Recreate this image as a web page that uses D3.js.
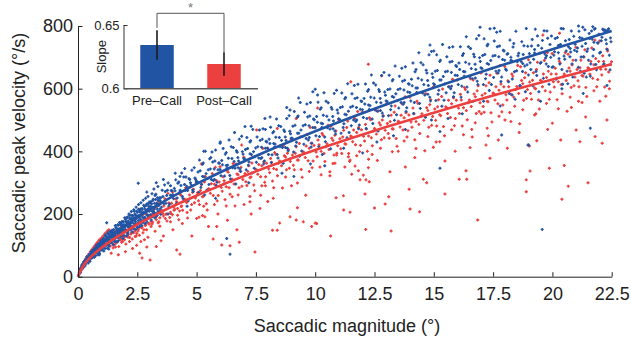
<!DOCTYPE html>
<html><head><meta charset="utf-8">
<script src="https://cdn.jsdelivr.net/npm/d3@7"></script>
<style>body{margin:0;background:#fff}svg{display:block;font-family:"Liberation Sans",Arial,sans-serif}</style>
</head><body><svg id="c" width="631" height="340"></svg>
<script>
// ---- data ----
const xTicks=[0,2.5,5,7.5,10,12.5,15,17.5,20,22.5];
const xTickLabels=["0","2.5","5","7.5","10","12.5","15","17.5","20","22.5"];
const yTicks=[0,200,400,600,800];
const yTickLabels=["0","200","400","600","800"];
const fitX=[0,0.25,0.5,1,1.5,2,2.5,3.5,5,7.5,10,12.5,15,17.5,20,22.5];
const preFit=[0,42,66,104,136,163,189,235,296,385,464,536,603,666,726,784];
const postFit=[0,38,60,93,120,144,167,207,259,336,404,466,523,578,629,678];
const groups=["Pre\u2013Call","Post\u2013Call"];
const slopes=[0.6342,0.6192];
const slopeErr=[0.0116,0.0093];
const insetTicks=[0.6,0.65];
const insetTickLabels=["0.6","0.65"];
const prePoints=[
[0.05,12],[0.08,18],[0.1,22],[0.12,27],[0.15,30],[0.17,26],[0.2,38],[0.22,34],[0.25,44],[0.27,40],[0.3,49],[0.32,45],[0.33,54],[0.36,50],[0.38,57],[0.4,53],[0.42,62],[0.44,58],[0.46,64],[0.48,60],
[0.5,70],[0.52,60],[0.55,74],[0.57,65],[0.6,78],[0.62,68],[0.64,84],[0.66,74],[0.68,80],[0.7,90],[0.72,78],[0.74,88],[0.76,82],[0.78,96],[0.8,86],[0.82,94],[0.84,100],[0.86,88],[0.88,104],[0.9,92],[0.92,99],[0.94,108],[0.96,95],[0.98,110],[1.0,100],
[1.02,112],[1.05,96],[1.07,122],[1.1,105],[1.12,118],[1.15,130],[1.17,100],[1.2,114],[1.22,126],[1.25,108],[1.27,140],[1.3,121],[1.32,133],[1.35,112],[1.37,127],[1.4,145],[1.42,118],[1.45,136],[1.47,128],[1.5,150],[1.52,122],[1.55,140],[1.57,133],[1.6,158],[1.62,128],[1.65,146],[1.67,139],[1.7,164],[1.72,136],[1.75,152],[1.77,145],[1.8,170],[1.82,140],[1.85,160],[1.87,150],[1.9,176],[1.92,148],[1.95,166],[1.97,158],[2.0,182],
[2.02,150],[2.05,172],[2.07,190],[2.1,160],[2.12,178],[2.15,200],[2.17,166],[2.2,185],[2.22,170],[2.25,208],[2.27,180],[2.3,194],[2.32,160],[2.35,214],[2.37,188],[2.4,200],[2.42,176],[2.45,222],[2.47,192],[2.5,206],[2.52,170],[2.55,230],[2.57,196],[2.6,212],[2.62,184],[2.65,236],[2.67,200],[2.7,218],[2.72,178],[2.75,244],[2.77,206],[2.8,224],[2.82,190],[2.85,250],[2.87,212],[2.9,232],[2.92,196],[2.95,256],[2.97,218],[3.0,238],
[1.21,172],[2.54,298],[0.9,70],[1.3,88],[1.6,112],[2.1,140],[2.6,160],
[0.105,13],[0.122,26],[0.138,23],[0.155,37],[0.172,25],[0.188,38],[0.205,35],[0.222,29],[0.238,47],[0.255,36],[0.272,47],[0.288,34],[0.305,53],[0.322,46],[0.338,41],[0.355,53],[0.372,64],[0.388,49],[0.405,50],[0.422,64],[0.438,44],[0.455,60],[0.472,72],[0.488,53],
[0.505,49],[0.522,68],[0.538,61],[0.555,80],[0.572,59],[0.588,78],[0.605,72],[0.622,62],[0.638,86],[0.655,68],[0.672,83],[0.688,62],[0.705,90],[0.722,77],[0.738,67],[0.755,86],[0.772,100],[0.788,77],[0.805,78],[0.822,96],[0.838,70],[0.855,91],[0.872,105],[0.888,80],[0.905,74],[0.922,99],[0.938,90],[0.955,114],[0.972,85],[0.988,110],
[1.005,100],[1.022,86],[1.038,118],[1.055,93],[1.072,112],[1.088,82],[1.105,121],[1.122,103],[1.138,90],[1.155,114],[1.172,133],[1.188,100],[1.205,103],[1.222,127],[1.238,91],[1.255,119],[1.272,137],[1.288,103],[1.305,97],[1.322,127],[1.338,115],[1.355,144],[1.372,109],[1.388,139],[1.405,127],[1.422,108],[1.438,148],[1.455,117],[1.472,141],[1.488,102],
[1.505,150],[1.522,128],[1.538,112],[1.555,140],[1.572,163],[1.588,123],[1.605,127],[1.622,154],[1.638,111],[1.655,144],[1.672,166],[1.688,124],[1.705,115],[1.722,152],[1.738,137],[1.755,173],[1.772,129],[1.788,165],[1.805,150],[1.822,129],[1.838,175],[1.855,139],[1.872,165],[1.888,122],[1.905,174],[1.922,150],[1.938,132],[1.955,163],[1.972,188],[1.988,144],
[2.005,147],[2.022,176],[2.038,130],[2.055,165],[2.072,188],[2.088,144],[2.105,136],[2.122,173],[2.138,158],[2.155,194],[2.172,150],[2.188,186],[2.205,171],[2.222,150],[2.238,196],[2.255,160],[2.272,186],[2.288,143],[2.305,195],[2.322,171],[2.338,153],[2.355,184],[2.372,209],[2.388,165],[2.405,168],[2.422,197],[2.438,151],[2.455,186],[2.472,209],[2.488,165],
[2.505,157],[2.522,194],[2.538,179],[2.555,215],[2.572,171],[2.588,207],[2.605,191],[2.622,170],[2.638,216],[2.655,180],[2.672,206],[2.688,163],[2.705,214],[2.722,190],[2.738,172],[2.755,203],[2.772,228],[2.788,184],[2.805,187],[2.822,216],[2.838,170],[2.855,205],[2.872,227],[2.888,183],[2.905,175],[2.922,212],[2.938,197],[2.955,233],[2.972,189],[2.988,225],
[3.005,209],[3.022,188],[3.038,234],[3.055,198],[3.072,224],[3.088,181],[3.105,233],[3.122,209],[3.138,191],[3.155,222],[3.172,247],[3.188,203],[3.205,205],[3.222,234],[3.238,188],[3.255,223],[3.272,246],[3.288,202],[3.305,194],[3.322,231],[3.338,216],[3.355,252],[3.372,208],[3.388,244],[3.405,227],[3.422,206],[3.438,252],[3.455,216],[3.472,242],[3.488,199],
[3.03,217],[3.09,196],[3.15,243],[3.21,216],[3.28,263],[3.34,196],[3.4,243],[3.46,233],[3.52,222],[3.58,256],[3.65,293],[3.71,234],[3.77,276],[3.83,225],[3.9,260],[3.96,274],
[4.03,249],[4.09,274],[4.15,234],[4.21,298],[4.28,269],[4.34,291],[4.4,256],[4.46,318],[4.52,275],[4.58,289],[4.65,242],[4.71,310],[4.77,293],[4.83,277],[4.9,348],[4.96,310],
[5.03,303],[5.09,269],[5.15,338],[5.21,295],[5.28,363],[5.34,261],[5.4,329],[5.46,313],[5.52,294],[5.58,344],[5.65,398],[5.71,307],[5.77,369],[5.83,291],[5.9,341],[5.96,362],
[6.03,322],[6.09,357],[6.15,296],[6.21,391],[6.28,346],[6.34,378],[6.4,323],[6.46,415],[6.52,348],[6.58,368],[6.65,296],[6.71,397],[6.77,369],[6.83,344],[6.9,448],[6.96,391],
[7.03,375],[7.09,341],[7.15,409],[7.21,366],[7.28,434],[7.34,331],[7.4,399],[7.46,383],[7.52,365],[7.58,415],[7.65,468],[7.71,377],[7.77,439],[7.83,360],[7.9,410],[7.96,430],
[8.03,390],[8.09,425],[8.15,364],[8.21,459],[8.28,413],[8.34,445],[8.4,390],[8.46,482],[8.52,415],[8.58,435],[8.65,362],[8.71,463],[8.77,435],[8.83,410],[8.9,514],[8.96,456],
[9.03,442],[9.09,398],[9.15,483],[9.21,429],[9.28,513],[9.34,384],[9.4,468],[9.46,447],[9.52,423],[9.58,485],[9.65,551],[9.71,436],[9.77,513],[9.83,414],[9.9,476],[9.96,501],
[10.03,450],[10.09,493],[10.15,415],[10.21,534],[10.28,476],[10.34,515],[10.4,446],[10.46,560],[10.52,475],[10.58,500],[10.65,408],[10.71,534],[10.77,497],[10.83,465],[10.9,595],[10.96,522],
[11.03,502],[11.09,458],[11.15,542],[11.21,488],[11.28,572],[11.34,443],[11.4,528],[11.46,506],[11.52,482],[11.58,544],[11.65,610],[11.71,495],[11.77,571],[11.83,472],[11.9,534],[11.96,559],
[12.03,508],[12.09,551],[12.15,473],[12.21,592],[12.28,534],[12.34,573],[12.4,503],[12.46,618],[12.52,533],[12.58,557],[12.65,465],[12.71,591],[12.77,555],[12.83,522],[12.9,652],[12.96,579],
[13.03,559],[13.09,514],[13.15,599],[13.21,545],[13.28,629],[13.34,499],[13.4,584],[13.46,562],[13.52,538],[13.58,600],[13.65,665],[13.71,550],[13.77,627],[13.83,527],[13.9,589],[13.96,614],
[14.03,561],[14.09,609],[14.15,521],[14.21,654],[14.28,588],[14.34,633],[14.4,553],[14.46,683],[14.52,586],[14.58,613],[14.65,509],[14.71,650],[14.77,610],[14.83,573],[14.9,719],[14.96,636],
[15.03,613],[15.09,562],[15.15,658],[15.21,595],[15.28,691],[15.34,544],[15.4,639],[15.46,615],[15.52,587],[15.58,656],[15.65,731],[15.71,600],[15.77,687],[15.83,574],[15.9,643],[15.96,671],
[16.03,613],[16.09,661],[16.15,573],[16.21,706],[16.28,640],[16.34,684],[16.4,605],[16.46,734],[16.52,638],[16.58,664],[16.65,560],[16.71,702],[16.77,661],[16.83,624],[16.9,770],[16.96,687],
[17.03,664],[17.09,613],[17.15,709],[17.21,646],[17.28,742],[17.34,594],[17.4,690],[17.46,665],[17.52,636],[17.58,706],[17.65,780],[17.71,650],[17.77,736],[17.83,623],[17.9,693],[17.96,720],
[18.03,662],[18.09,710],[18.15,622],[18.21,755],[18.28,689],[18.34,733],[18.4,654],[18.46,783],[18.52,686],[18.58,713],[18.65,609],[18.71,750],[18.77,709],[18.83,672],[18.9,792],[18.96,735],
[19.03,712],[19.09,661],[19.15,757],[19.21,694],[19.28,790],[19.34,642],[19.4,738],[19.46,713],[19.52,684],[19.58,754],[19.65,785],[19.71,698],[19.77,784],[19.83,671],[19.9,741],[19.96,768],
[20.03,670],[20.09,718],[20.15,630],[20.21,763],[20.28,696],[20.34,741],[20.4,661],[20.46,791],[20.52,694],[20.58,720],[20.65,616],[20.71,757],[20.77,717],[20.83,679],[20.9,767],[20.96,742],
[21.03,719],[21.09,668],[21.15,763],[21.21,701],[21.28,796],[21.34,649],[21.4,744],[21.46,719],[21.52,691],[21.58,760],[21.65,784],[21.71,704],[21.77,790],[21.83,677],[21.9,746],[21.96,774],
[22.03,716],[22.09,764],[22.15,676],[22.21,787],[22.28,743],[22.34,787],[22.4,707],[22.45,762],
[3.06,239],[3.12,265],[3.18,208],[3.25,259],[3.31,234],[3.37,288],[3.43,207],[3.49,252],[3.55,276],[3.62,233],[3.68,272],[3.74,259],[3.8,299],[3.86,232],[3.93,275],[3.99,262],
[4.06,282],[4.12,309],[4.18,251],[4.25,302],[4.31,276],[4.37,331],[4.43,249],[4.49,294],[4.55,318],[4.62,275],[4.68,313],[4.74,300],[4.8,340],[4.86,272],[4.93,315],[4.99,302],
[5.06,334],[5.12,372],[5.18,285],[5.25,359],[5.31,319],[5.37,400],[5.43,276],[5.49,341],[5.55,376],[5.62,310],[5.68,366],[5.74,344],[5.8,404],[5.86,301],[5.93,363],[5.99,342],
[6.06,371],[6.12,409],[6.18,321],[6.25,396],[6.31,356],[6.37,436],[6.43,312],[6.49,377],[6.55,412],[6.62,346],[6.68,402],[6.74,380],[6.8,439],[6.86,336],[6.93,399],[6.99,377],
[7.06,406],[7.12,444],[7.18,356],[7.25,430],[7.31,390],[7.37,470],[7.43,346],[7.49,411],[7.55,446],[7.62,379],[7.68,435],[7.74,413],[7.8,472],[7.86,369],[7.93,432],[7.99,410],
[8.06,439],[8.12,477],[8.18,389],[8.25,463],[8.31,423],[8.37,503],[8.43,379],[8.49,444],[8.55,479],[8.62,412],[8.68,468],[8.74,446],[8.8,505],[8.86,402],[8.93,464],[8.99,442],
[9.06,480],[9.12,527],[9.18,417],[9.25,509],[9.31,458],[9.37,556],[9.43,401],[9.49,482],[9.55,525],[9.62,441],[9.68,510],[9.74,482],[9.8,556],[9.86,426],[9.93,503],[9.99,475],
[10.06,511],[10.12,557],[10.18,447],[10.25,539],[10.31,488],[10.37,587],[10.43,431],[10.49,512],[10.55,555],[10.62,471],[10.68,540],[10.74,511],[10.8,585],[10.86,455],[10.93,532],[10.99,504],
[11.06,540],[11.12,586],[11.18,476],[11.25,568],[11.31,517],[11.37,616],[11.43,460],[11.49,541],[11.55,584],[11.62,500],[11.68,569],[11.74,540],[11.8,614],[11.86,484],[11.93,561],[11.99,533],
[12.06,569],[12.12,615],[12.18,505],[12.25,597],[12.31,546],[12.37,644],[12.43,489],[12.49,570],[12.55,612],[12.62,528],[12.68,597],[12.74,569],[12.8,642],[12.86,512],[12.93,589],[12.99,561],
[13.06,597],[13.12,643],[13.18,533],[13.25,625],[13.31,573],[13.37,672],[13.43,517],[13.49,597],[13.55,640],[13.62,556],[13.68,624],[13.74,596],[13.8,670],[13.86,539],[13.93,616],[13.99,588],
[14.06,630],[14.12,682],[14.18,556],[14.25,661],[14.31,602],[14.37,715],[14.43,537],[14.49,628],[14.55,676],[14.62,580],[14.68,659],[14.74,626],[14.8,708],[14.86,561],[14.93,648],[14.99,616],
[15.06,656],[15.12,708],[15.18,582],[15.25,687],[15.31,628],[15.37,741],[15.43,563],[15.49,654],[15.55,702],[15.62,606],[15.68,685],[15.74,652],[15.8,734],[15.86,587],[15.93,674],[15.99,642],
[16.06,682],[16.12,734],[16.18,608],[16.25,712],[16.31,654],[16.37,766],[16.43,589],[16.49,679],[16.55,728],[16.62,632],[16.68,710],[16.74,678],[16.8,759],[16.86,613],[16.93,699],[16.99,667],
[17.06,706],[17.12,759],[17.18,632],[17.25,737],[17.31,678],[17.37,791],[17.43,613],[17.49,704],[17.55,752],[17.62,656],[17.68,734],[17.74,702],[17.8,783],[17.86,637],[17.93,723],[17.99,691],
[18.06,659],[18.12,712],[18.18,585],[18.25,690],[18.31,631],[18.37,744],[18.43,566],[18.49,657],[18.55,705],[18.62,609],[18.68,687],[18.74,655],[18.8,737],[18.86,590],[18.93,676],[18.99,644],
[19.06,683],[19.12,736],[19.18,609],[19.25,714],[19.31,655],[19.37,768],[19.43,590],[19.49,681],[19.55,729],[19.62,633],[19.68,711],[19.74,679],[19.8,761],[19.86,614],[19.93,700],[19.99,668],
[20.06,707],[20.12,760],[20.18,633],[20.25,738],[20.31,679],[20.37,792],[20.43,614],[20.49,704],[20.55,753],[20.62,656],[20.68,734],[20.74,702],[20.8,784],[20.86,637],[20.93,723],[20.99,691],
[21.06,730],[21.12,783],[21.18,656],[21.25,761],[21.31,702],[21.37,788],[21.43,637],[21.49,727],[21.55,776],[21.62,679],[21.68,758],[21.74,725],[21.8,792],[21.86,660],[21.93,746],[21.99,714],
[22.06,753],[22.12,790],[22.18,679],[22.25,784],[22.31,725],[22.37,791],[22.43,660],[22.47,750],
[6.41,72],[6.27,122],[19.57,151],[15.26,346],[10.4,354],[14.84,739],[15.0,720],[16.95,796],[17.55,793],[21.1,800],[21.7,798],[22.15,787],[15.26,463],[19.0,420],[8.6,330],[9.8,360],[11.2,410],[12.6,430],[13.8,470],[14.9,500],[16.2,520],[17.1,560],[18.3,580],[20.4,600],[21.6,640],[22.3,610],[5.8,250],[7.2,300],[9.1,320],[10.3,390],[12.0,395],[13.3,450],[15.6,505],[17.8,545],[19.5,560],[21.3,585],[4.6,225],[3.8,200],[17.86,452],[18.97,420],[21.6,474],[3.3,300],[3.6,310],[4.1,330],[4.3,320],[3.9,290],[4.5,345],[2.9,270],[3.2,280],[5.3,400],[6.0,430],[6.6,460],[7.3,480],[8.1,510],[8.8,540],[9.3,570],[9.9,590],[7.9,470],[5.6,380],[10.0,598],[10.1,580],[5.99,426],[7.04,479],[7.88,505],[8.94,532],
[5.25,320],[5.75,310],[6.25,355],[6.75,348],[7.25,392],[7.75,380],[8.25,425],[8.75,412],[9.25,458],[9.75,444],[10.25,490],[10.75,472],[11.25,518],[11.75,500],[12.25,548],[12.75,530],[13.25,575],[13.75,556],[14.25,602],[14.75,582],[15.25,628],[15.75,608],[16.25,655],[16.75,634],[17.25,680],[17.75,658],[18.25,700],[18.75,680],[19.25,725],[19.75,705],[20.25,715],[20.75,728],[21.25,735],[21.75,748],[22.25,756]
];
const postPoints=[
[0.06,16],[0.1,26],[0.13,22],[0.16,34],[0.19,30],[0.22,42],[0.25,48],[0.28,40],[0.31,56],[0.34,50],[0.37,62],[0.4,66],[0.43,58],[0.46,72],[0.49,68],[0.52,80],[0.55,72],[0.58,86],[0.61,78],[0.64,92],[0.67,84],[0.7,98],[0.73,90],[0.76,104],[0.79,94],[0.82,110],[0.85,100],[0.88,116],[0.91,106],[0.94,120],[0.97,98],[1.0,124],[1.03,110],[1.06,130],[1.09,116],[1.12,136],[1.15,104],[1.18,140],[1.21,122],[1.24,146],[1.27,112],[1.3,150],
[1.33,118],[1.36,98],[1.39,128],[1.42,108],[1.45,136],[1.48,92],[1.51,122],[1.54,140],[1.57,104],[1.6,130],[1.63,148],[1.66,112],[1.69,136],[1.72,96],[1.75,142],[1.78,122],[1.81,156],[1.84,110],[1.87,146],[1.9,130],[1.93,162],[1.96,118],[1.99,150],[2.02,104],[2.05,140],[2.08,168],[2.11,126],[2.14,152],[2.17,112],[2.2,160],[2.23,136],[2.26,176],[2.29,120],[2.32,156],[2.35,140],[2.38,184],[2.41,128],[2.44,162],[2.47,100],[2.5,170],[2.53,146],[2.56,190],[2.59,132],[2.62,174],[2.65,112],[2.68,156],[2.71,196],[2.74,140],[2.77,178],[2.8,118],[2.83,164],[2.86,200],[2.89,150],[2.92,184],[2.95,126],[2.98,170],
[1.7,70],[2.0,80],[2.3,90],[2.6,75],[2.9,95],[1.4,75],[2.45,130],
[1.5,102],[1.65,110],[1.8,118],[1.95,126],[2.1,132],[2.25,140],[2.4,146],[2.55,152],[2.7,158],[2.85,164],[3.0,168],[3.15,174],[3.3,182],[3.45,188],[3.6,194],[3.75,200],[3.9,206],[4.05,212],[4.2,218],[4.35,224],[1.58,95],[1.88,112],[2.18,125],[2.48,138],[2.78,150],[3.08,160],[3.38,172],[3.68,186],[3.98,198],[4.28,210],
[3.04,195],[3.12,168],[3.2,215],[3.29,191],[3.37,238],[3.45,161],[3.54,211],[3.62,226],[3.7,199],[3.79,266],[3.87,189],[3.95,234],
[4.04,223],[4.12,248],[4.2,196],[4.29,264],[4.37,226],[4.45,241],[4.54,284],[4.62,187],[4.7,261],[4.79,230],[4.87,279],[4.95,251],
[5.04,268],[5.12,230],[5.2,293],[5.29,257],[5.37,320],[5.45,213],[5.54,279],[5.62,297],[5.7,259],[5.79,349],[5.87,242],[5.95,302],
[6.04,285],[6.12,319],[6.2,246],[6.29,338],[6.37,284],[6.45,303],[6.54,361],[6.62,226],[6.7,328],[6.79,284],[6.87,349],[6.95,310],
[7.04,329],[7.12,291],[7.2,354],[7.29,318],[7.37,381],[7.45,274],[7.54,340],[7.62,358],[7.7,319],[7.79,409],[7.87,301],[7.95,362],
[8.04,344],[8.12,377],[8.2,305],[8.29,396],[8.37,342],[8.45,362],[8.54,419],[8.62,283],[8.7,386],[8.79,341],[8.87,406],[8.95,368],
[9.04,388],[9.12,341],[9.2,415],[9.29,372],[9.37,446],[9.45,317],[9.54,395],[9.62,417],[9.7,370],[9.79,476],[9.87,348],[9.95,419],
[10.04,398],[10.12,436],[10.2,350],[10.29,457],[10.37,393],[10.45,415],[10.54,483],[10.62,322],[10.7,442],[10.79,388],[10.87,465],[10.95,418],
[11.04,440],[11.12,393],[11.2,467],[11.29,423],[11.37,497],[11.45,368],[11.54,446],[11.62,468],[11.7,421],[11.79,527],[11.87,399],[11.95,469],
[12.04,448],[12.12,486],[12.2,400],[12.29,507],[12.37,443],[12.45,465],[12.54,532],[12.62,371],[12.7,491],[12.79,437],[12.87,514],[12.95,467],
[13.04,489],[13.12,442],[13.2,515],[13.29,471],[13.37,545],[13.45,416],[13.54,493],[13.62,515],[13.7,468],[13.79,574],[13.87,446],[13.95,516],
[14.04,494],[14.12,538],[14.2,437],[14.29,560],[14.37,486],[14.45,511],[14.54,588],[14.62,402],[14.7,539],[14.79,477],[14.87,565],[14.95,511],
[15.04,535],[15.12,481],[15.2,565],[15.29,514],[15.37,599],[15.45,450],[15.54,539],[15.62,563],[15.7,508],[15.79,630],[15.87,482],[15.95,563],
[16.04,538],[16.12,582],[16.2,481],[16.29,604],[16.37,530],[16.45,555],[16.54,632],[16.62,446],[16.7,583],[16.79,521],[16.87,609],[16.95,555],
[17.04,579],[17.12,525],[17.2,609],[17.29,558],[17.37,643],[17.45,494],[17.54,583],[17.62,606],[17.7,552],[17.79,674],[17.87,526],[17.95,606],
[18.04,581],[18.12,625],[18.2,524],[18.29,647],[18.37,573],[18.45,597],[18.54,674],[18.62,488],[18.7,626],[18.79,563],[18.87,651],[18.95,597],
[19.04,621],[19.12,566],[19.2,651],[19.29,600],[19.37,684],[19.45,535],[19.54,624],[19.62,647],[19.7,593],[19.79,715],[19.87,566],[19.95,647],
[20.04,622],[20.12,665],[20.2,565],[20.29,688],[20.37,613],[20.45,638],[20.54,715],[20.62,528],[20.7,666],[20.79,604],[20.87,691],[20.95,637],
[21.04,661],[21.12,606],[21.2,691],[21.29,640],[21.37,724],[21.45,575],[21.54,664],[21.62,687],[21.7,633],[21.79,755],[21.87,606],[21.95,687],
[22.04,662],[22.12,705],[22.2,605],[22.29,727],[22.37,653],[22.45,677],
[3.08,176],[3.16,201],[3.25,145],[3.33,224],[3.41,175],[3.5,211],[3.58,202],[3.66,249],[3.75,178],[3.83,235],[3.91,202],[3.99,270],
[4.08,215],[4.16,239],[4.25,182],[4.33,261],[4.41,212],[4.5,247],[4.58,237],[4.66,284],[4.75,213],[4.83,269],[4.91,236],[4.99,303],
[5.08,242],[5.16,275],[5.25,195],[5.33,302],[5.41,233],[5.5,281],[5.58,266],[5.66,329],[5.75,230],[5.83,307],[5.91,259],[5.99,351],
[6.08,273],[6.16,306],[6.25,226],[6.33,333],[6.41,263],[6.5,311],[6.58,296],[6.66,360],[6.75,261],[6.83,337],[6.91,289],[6.99,381],
[7.08,303],[7.16,336],[7.25,256],[7.33,363],[7.41,293],[7.5,342],[7.58,327],[7.66,390],[7.75,290],[7.83,367],[7.91,319],[7.99,410],
[8.08,332],[8.16,365],[8.25,284],[8.33,391],[8.41,322],[8.5,369],[8.58,354],[8.66,417],[8.75,318],[8.83,394],[8.91,346],[8.99,438],
[9.08,356],[9.16,394],[9.25,299],[9.33,425],[9.41,342],[9.5,398],[9.58,380],[9.66,454],[9.75,336],[9.83,426],[9.91,369],[9.99,476],
[10.08,383],[10.16,421],[10.25,325],[10.33,451],[10.41,368],[10.5,424],[10.58,406],[10.66,480],[10.75,361],[10.83,451],[10.91,394],[10.99,501],
[11.08,408],[11.16,446],[11.25,350],[11.33,476],[11.41,393],[11.5,449],[11.58,431],[11.66,505],[11.75,386],[11.83,476],[11.91,419],[11.99,526],
[12.08,433],[12.16,471],[12.25,375],[12.33,501],[12.41,418],[12.5,473],[12.58,455],[12.66,529],[12.75,410],[12.83,500],[12.91,443],[12.99,550],
[13.08,457],[13.16,495],[13.25,399],[13.33,525],[13.41,441],[13.5,496],[13.58,478],[13.66,552],[13.75,433],[13.83,523],[13.91,466],[13.99,573],
[14.08,477],[14.16,520],[14.25,409],[14.33,553],[14.41,457],[14.5,520],[14.58,499],[14.66,584],[14.75,447],[14.83,549],[14.91,483],[14.99,606],
[15.08,499],[15.16,542],[15.25,431],[15.33,575],[15.41,479],[15.5,542],[15.58,521],[15.66,606],[15.75,469],[15.83,571],[15.91,505],[15.99,628],
[16.08,521],[16.16,564],[16.25,453],[16.33,597],[16.41,501],[16.5,564],[16.58,543],[16.66,628],[16.75,491],[16.83,593],[16.91,527],[16.99,650],
[17.08,543],[17.16,585],[17.25,474],[17.33,619],[17.41,523],[17.5,586],[17.58,564],[17.66,649],[17.75,512],[17.83,615],[17.91,548],[17.99,671],
[18.08,564],[18.16,606],[18.25,495],[18.33,640],[18.41,544],[18.5,607],[18.58,585],[18.66,670],[18.75,533],[18.83,635],[18.91,569],[18.99,692],
[19.08,585],[19.16,627],[19.25,516],[19.33,661],[19.41,564],[19.5,627],[19.58,606],[19.66,690],[19.75,553],[19.83,656],[19.91,589],[19.99,712],
[20.08,605],[20.16,647],[20.25,536],[20.33,681],[20.41,584],[20.5,647],[20.58,626],[20.66,710],[20.75,573],[20.83,676],[20.91,609],[20.99,732],
[21.08,625],[21.16,667],[21.25,556],[21.33,701],[21.41,604],[21.5,667],[21.58,646],[21.66,730],[21.75,593],[21.83,696],[21.91,629],[21.99,752],
[22.08,644],[22.16,687],[22.25,576],[22.33,720],[22.41,624],[22.49,686],
[4.16,85],[3.04,53],[4.3,72],[7.46,79],[6.06,101],[8.2,148],[8.4,148],[8.5,171],[8.94,191],[9.2,181],[9.5,175],[10.0,171],[10.06,170],[9.85,160],[10.65,130],[11.2,213],[11.47,206],[12.13,151],[12.5,219],[13.2,146],[12.95,232],[13.1,255],[14.0,216],[14.4,207],[13.96,279],[14.7,300],[15.47,264],[16.07,311],[16.36,338],[16.85,181],[18.9,271],[18.9,309],[19.06,337],[19.87,346],[20.4,247],[20.5,355],[20.67,289],[21.5,300],[17.37,378],[17.72,436],[19.03,417],[19.34,434],[21.16,431],[22.1,426],[21.0,468],[21.8,447],[16.53,412],[17.2,420],[18.1,410],[20.35,436],[10.88,252],[11.19,258],[12.1,264],[10.62,335],[11.54,327],[11.89,309],[12.14,309],[12.24,348],[13.15,335],[14.56,311],[14.98,413],[15.47,369],[16.39,311],[11.47,372],[11.68,353],[11.82,338],[12.03,324],[12.28,303],[11.4,383],[10.83,362],[10.9,388],
[12.24,678],[11.5,622],[12.8,641],[19.6,771],[20.3,777],[22.2,785],[7.53,468],[8.4,473],[10.1,538],[9.2,505],[6.9,420],[5.2,360],
[3.3,96],[2.7,60],[3.6,130],[4.0,150],[4.4,170],[4.8,130],[5.1,190],[5.5,160],[5.9,200],[6.3,180],[6.7,150],[7.0,230],[7.3,200],[7.7,260],[8.0,240],[3.9,175],[4.6,205],[5.3,225],[6.5,255],[7.9,290],[9.0,290],[9.6,260],[5.7,120],[6.8,110],[3.5,115],
[5.0,186],[5.35,191],[5.85,160],[6.41,99],[7.25,239],[7.67,218],[8.23,250],[9.25,220],
[5.25,255],[5.75,295],[6.25,287],[6.75,325],[7.25,316],[7.75,354],[8.25,345],[8.75,382],[9.25,372],[9.75,410],[10.25,400],[10.75,435],[11.25,424],[11.75,460],[12.25,449],[12.75,484],[13.25,472],[13.75,507],[14.25,495],[14.75,530],[15.25,517],[15.75,552],[16.25,539],[16.75,574],[17.25,560],[17.75,595],[18.25,582],[18.75,616],[19.25,602],[19.75,636],[20.25,622],[20.75,656],[21.25,642],[21.75,676],[22.25,662],
[13.5,400],[14.2,380],[15.1,430],[15.9,400],[16.6,470],[17.3,450],[18.0,500],[18.6,460],[19.3,520],[20.0,490],[20.8,540],[21.4,510],[22.0,560],[22.3,500],[12.4,390],[13.8,350],[17.0,520],[19.8,470],[21.1,560],[22.4,600]
];

// ---- drawing ----
const FONT='"Liberation Sans", Arial, sans-serif';
const BLUE='#2254a4', RED='#ec3f3f', INK='#222';
const svg=d3.select('#c');
const x=d3.scaleLinear().domain([0,22.5]).range([78,611.7]);
const y=d3.scaleLinear().domain([0,800]).range([276.7,26]);

function marks(pts,color){
  svg.append('g').selectAll('path').data(pts).join('path')
    .attr('d',d=>{const px=x(d[0]),py=y(d[1]);return `M${px-1.5},${py}h3M${px},${py-1.5}v3`;})
    .attr('stroke',color).attr('stroke-width',1.4).attr('fill','none');
}
marks(postPoints,RED);
marks(prePoints,BLUE);

const fitLine=d3.line().x((d,i)=>x(fitX[i])).y(d=>y(d)).curve(d3.curveMonotoneX);
svg.append('path').datum(preFit).attr('d',fitLine).attr('fill','none').attr('stroke',BLUE).attr('stroke-width',2.6);
svg.append('path').datum(postFit).attr('d',fitLine).attr('fill','none').attr('stroke',RED).attr('stroke-width',2.6);

// axes
const gx=svg.append('g').attr('transform',`translate(0,${y(0)})`)
  .call(d3.axisBottom(x).tickValues(xTicks).tickFormat((d,i)=>xTickLabels[i]).tickSizeInner(-4.5).tickSizeOuter(0).tickPadding(11));
const gy=svg.append('g').attr('transform',`translate(${x(0)},0)`)
  .call(d3.axisLeft(y).tickValues(yTicks).tickFormat((d,i)=>yTickLabels[i]).tickSizeInner(-4.5).tickSizeOuter(0).tickPadding(5));
[gx,gy].forEach(g=>{
  g.attr('font-size',18).attr('font-family',FONT);
  g.select('.domain').attr('stroke',INK).attr('stroke-width',1);
  g.selectAll('.tick line').attr('stroke',INK);
  g.selectAll('.tick text').attr('fill',INK);
});
svg.append('text').attr('x',347).attr('y',332).attr('text-anchor','middle')
  .attr('font-size',18).attr('font-family',FONT).attr('fill',INK).text('Saccadic magnitude (°)');
svg.append('text').attr('transform','translate(25,143) rotate(-90)').attr('text-anchor','middle')
  .attr('font-size',18).attr('font-family',FONT).attr('fill',INK).text('Saccadic peak velocity (°/s)');

// inset
const yi=d3.scaleLinear().domain([0.6,0.65]).range([88.3,25]);
const xi=d3.scaleBand().domain(groups).range([123.5,257.5]).paddingInner(0.5).paddingOuter(0.25);
const ins=svg.append('g');
ins.selectAll('rect').data(groups).join('rect')
  .attr('x',d=>xi(d)).attr('width',xi.bandwidth())
  .attr('y',(d,i)=>yi(slopes[i])).attr('height',(d,i)=>yi(0.6)-yi(slopes[i]))
  .attr('fill',(d,i)=>i===0?BLUE:RED);
ins.selectAll('line.err').data(groups).join('line').attr('class','err')
  .attr('x1',d=>xi(d)+xi.bandwidth()/2).attr('x2',d=>xi(d)+xi.bandwidth()/2)
  .attr('y1',(d,i)=>yi(slopes[i]-slopeErr[i])).attr('y2',(d,i)=>yi(slopes[i]+slopeErr[i]))
  .attr('stroke','#1c1c1c').attr('stroke-width',1.6);
const cx0=xi(groups[0])+xi.bandwidth()/2, cx1=xi(groups[1])+xi.bandwidth()/2;
const bTop=yi(0.65)-11.7;
ins.append('path')
  .attr('d',`M${cx0},${yi(slopes[0]+slopeErr[0])-2.4}V${bTop}H${cx1}V${yi(slopes[1]+slopeErr[1])}`)
  .attr('fill','none').attr('stroke','#555').attr('stroke-width',1);
ins.append('text').attr('x',(cx0+cx1)/2).attr('y',bTop-1.5).attr('text-anchor','middle')
  .attr('font-size',13).attr('font-family',FONT).attr('fill','#777').text('*');
const giy=ins.append('g').attr('transform','translate(123.5,0)')
  .call(d3.axisLeft(yi).tickValues(insetTicks).tickFormat((d,i)=>insetTickLabels[i]).tickSizeInner(-4).tickSizeOuter(0).tickPadding(4));
const gix=ins.append('g').attr('transform',`translate(0,${yi(0.6)})`)
  .call(d3.axisBottom(xi).tickSize(0).tickPadding(7.4));
[giy,gix].forEach(g=>{
  g.attr('font-size',13).attr('font-family',FONT);
  g.selectAll('.tick text').attr('fill',INK);
  g.selectAll('.tick line').attr('stroke','#333');
});
giy.select('.domain').attr('stroke','#333').attr('stroke-width',1);
gix.select('.domain').attr('stroke','#555').attr('stroke-width',1.4);
ins.append('text').attr('transform','translate(106,56.7) rotate(-90)').attr('text-anchor','middle')
  .attr('font-size',13).attr('font-family',FONT).attr('fill',INK).text('Slope');
</script></body></html>
